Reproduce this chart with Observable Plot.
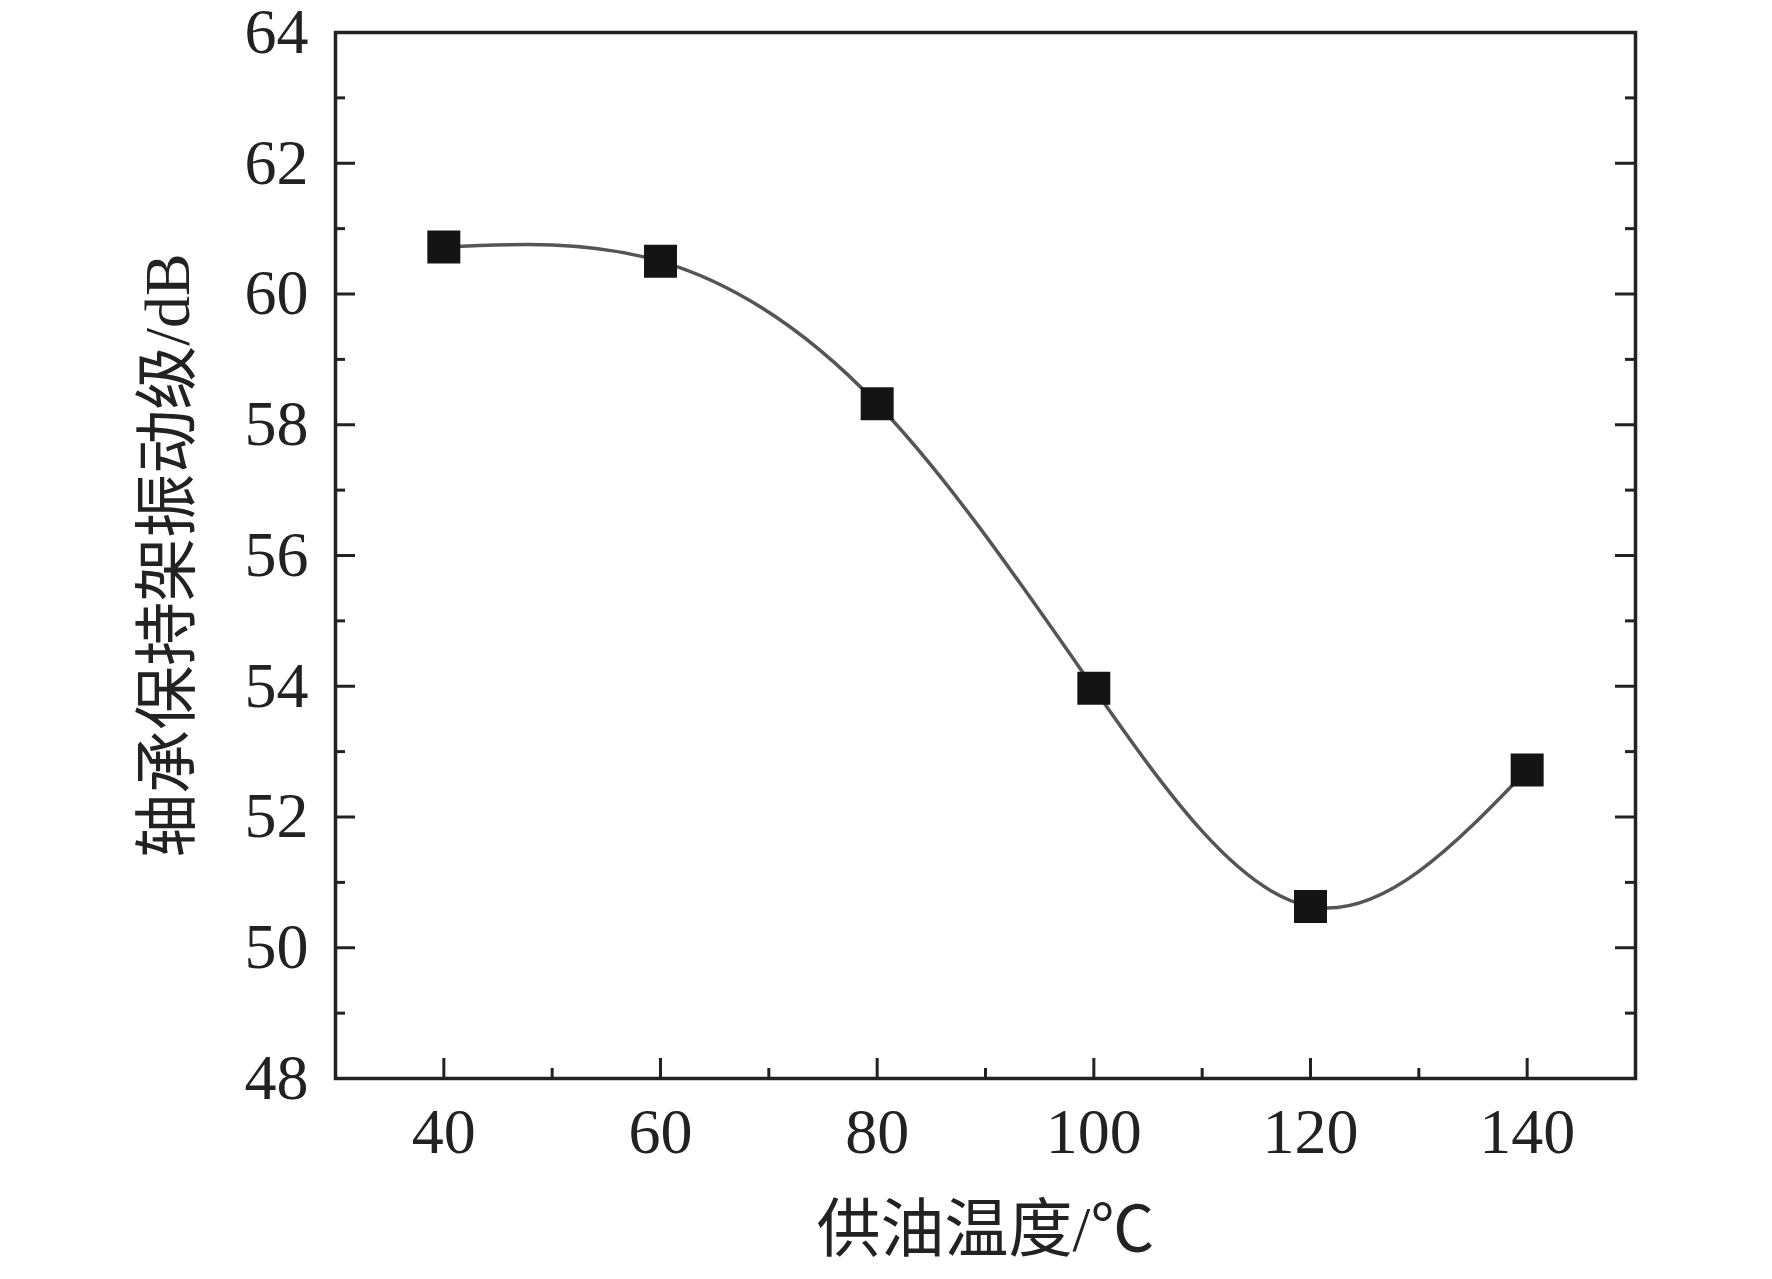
<!DOCTYPE html>
<html>
<head>
<meta charset="utf-8">
<script src="https://cdn.jsdelivr.net/npm/d3@7"></script>
<script src="https://cdn.jsdelivr.net/npm/@observablehq/plot@0.6"></script>
<style>
  html, body { margin: 0; padding: 0; background: #fff; }
  #chart svg { display: block; }
</style>
</head>
<body>
<div id="chart"></div>
<script>
// Data
const temperatures = [40, 60, 80, 100, 120, 140];
const vibrationLevels = [60.72, 60.5, 58.32, 53.97, 50.63, 52.72];

// Axis ticks
const xMajorTicks = [40, 60, 80, 100, 120, 140];
const xMinorTicks = [50, 70, 90, 110, 130];
const yMajorTicks = [48, 50, 52, 54, 56, 58, 60, 62, 64];
const yMinorTicks = [49, 51, 53, 55, 57, 59, 61, 63];

const xLabel = "供油温度/℃";
const yLabel = "轴承保持架振动级/dB";

const data = temperatures.map((t, i) => ({t, v: vibrationLevels[i]}));

const W = 1772, H = 1279;
const mL = 335, mR = 137, mT = 32, mB = 201;
const fw = W - mL - mR, fh = H - mT - mB;
const ink = "#222";
const majorLen = 20, minorLen = 10;

const plot = Plot.plot({
  width: W,
  height: H,
  marginLeft: mL,
  marginRight: mR,
  marginTop: mT,
  marginBottom: mB,
  style: {fontFamily: '"Liberation Serif", "Noto Sans CJK SC", serif', color: ink, background: "#fff"},
  x: {domain: [30, 150]},
  y: {domain: [48, 64]},
  marks: [
    // y ticks inward (left)
    Plot.ruleY(yMajorTicks, {stroke: ink, strokeWidth: 3, insetRight: fw - majorLen}),
    Plot.ruleY(yMinorTicks, {stroke: ink, strokeWidth: 3, insetRight: fw - minorLen}),
    // y ticks inward (right)
    Plot.ruleY(yMajorTicks, {stroke: ink, strokeWidth: 3, insetLeft: fw - majorLen}),
    Plot.ruleY(yMinorTicks, {stroke: ink, strokeWidth: 3, insetLeft: fw - minorLen}),
    // x ticks inward (bottom)
    Plot.ruleX(xMajorTicks, {stroke: ink, strokeWidth: 3, insetTop: fh - majorLen}),
    Plot.ruleX(xMinorTicks, {stroke: ink, strokeWidth: 3, insetTop: fh - minorLen}),
    Plot.frame({stroke: ink, strokeWidth: 3.5}),
    Plot.axisY(yMajorTicks, {tickSize: 0, tickPadding: 27, fontSize: 64, label: null, tickFormat: d => String(d)}),
    Plot.axisX(xMajorTicks, {tickSize: 0, tickPadding: 29, fontSize: 64, label: null, tickFormat: d => String(d)}),
    Plot.line(data, {x: "t", y: "v", curve: "natural", stroke: "#555", strokeWidth: 3.5}),
    Plot.dot(data, {x: "t", y: "v", symbol: "square", r: 18.6, fill: "#141414", stroke: "none"}),
    Plot.text([yLabel], {frameAnchor: "left", textAnchor: "middle", dx: -167, rotate: -90, fontSize: 64, fill: ink, text: d => d}),
    Plot.text([xLabel], {frameAnchor: "bottom", textAnchor: "middle", dy: 172, fontSize: 64, fill: ink, text: d => d})
  ]
});
document.getElementById("chart").appendChild(plot);
</script>
</body>
</html>
